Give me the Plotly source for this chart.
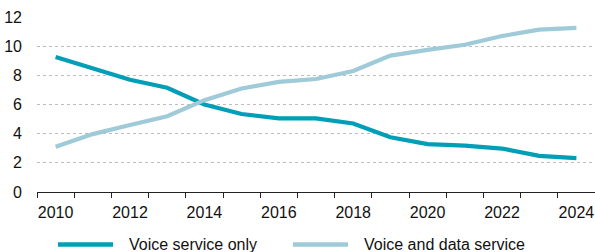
import plotly.graph_objects as go

years = list(range(2010, 2025))
voice_only = [9.25, 8.45, 7.7, 7.15, 6.0, 5.35, 5.05, 5.05, 4.7, 3.75, 3.28, 3.18, 2.98, 2.48, 2.32]
voice_data = [3.1, 3.97, 4.6, 5.2, 6.3, 7.1, 7.55, 7.75, 8.3, 9.35, 9.75, 10.1, 10.7, 11.13, 11.25]
names = ["Voice service only", "Voice and data service"]
colors = ["#009fb7", "#9fcbd8"]
y_ticks = [0, 2, 4, 6, 8, 10, 12]
x_ticks = years[::2]

FONT = "Liberation Sans, Arial, sans-serif"

fig = go.Figure()
for vals, name, col in zip([voice_only, voice_data], names, colors):
    fig.add_trace(go.Scatter(x=years, y=vals, name=name, mode="lines",
                             line=dict(color=col, width=4.2), showlegend=False))

# custom legend (line samples + labels)
leg_y = -0.30
for (x0, x1, xt), name, col in zip([(0.0376, 0.1362, 0.1613), (0.4588, 0.5573, 0.5824)], names, colors):
    fig.add_shape(type="line", xref="paper", yref="paper", x0=x0, x1=x1, y0=leg_y, y1=leg_y,
                  line=dict(color=col, width=4.5))
    fig.add_annotation(xref="paper", yref="paper", x=xt, y=leg_y, text=name, showarrow=False,
                       xanchor="left", yanchor="middle", font=dict(size=16, color="#111", family=FONT))

fig.update_layout(
    width=595, height=252,
    margin=dict(l=37, r=0, t=17, b=60),
    paper_bgcolor="white", plot_bgcolor="white",
    hovermode=False,
    font=dict(family=FONT, size=16, color="#111"),
    xaxis=dict(range=[2009.5, 2024.5], tickvals=x_ticks, ticktext=[str(v) for v in x_ticks],
               showgrid=False, zeroline=False, showline=True, linecolor="#222", linewidth=1,
               ticks="", ticklabelstandoff=6,
               minor=dict(tick0=2009.5, dtick=1, ticks="outside", ticklen=5, tickcolor="#222",
                          tickwidth=1, showgrid=False)),
    yaxis=dict(range=[0, 12], tickvals=y_ticks, showgrid=True, gridcolor="#bdbdbd",
               griddash="dot", gridwidth=1, zeroline=False, showline=False, ticks="",
               ticklabelstandoff=14),
)
fig.write_html("out.html", config={"displayModeBar": False, "staticPlot": True},
               post_script="document.body.style.margin='0';")
